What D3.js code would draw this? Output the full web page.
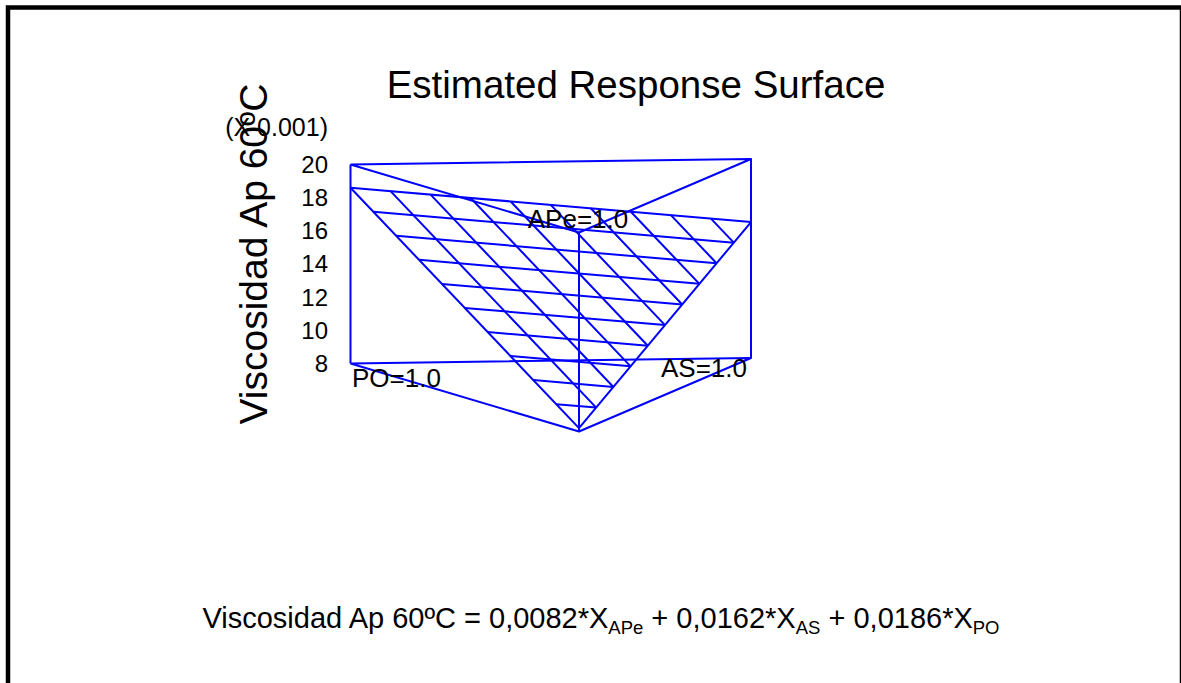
<!DOCTYPE html>
<html>
<head>
<meta charset="utf-8">
<script src="https://cdn.jsdelivr.net/npm/d3@7/dist/d3.min.js"></script>
<style>
  html, body { margin: 0; padding: 0; background: #fff; }
  svg { display: block; }
  text { font-family: "Liberation Sans", Arial, sans-serif; fill: #000; }
</style>
</head>
<body>
<svg id="chart" width="1181" height="683"></svg>
<script>
// Mixture components (order: APe, AS, PO) and fitted linear coefficients
const components = ["APe", "AS", "PO"];
const coefficients = [0.0082, 0.0162, 0.0186];
// Response axis ticks, shown in units of 0.001
const zTicks = [8, 10, 12, 14, 16, 18, 20];
const zDomain = [8, 20];
const responseMultiplier = 0.001;
// Number of grid divisions along each component on the surface mesh
const gridDivisions = 10;

const svg = d3.select("#chart");
const blue = "#0000ff";

// Frame
svg.append("rect")
  .attr("x", 8).attr("y", 7.5)
  .attr("width", 1174).attr("height", 720)
  .attr("fill", "none").attr("stroke", "#000").attr("stroke-width", 4.5);

// Oblique projection: floor corners of the simplex + vertical response scale
const floorCorner = {
  APe: [579, 431.5],
  AS:  [751, 358],
  PO:  [350.5, 363.5]
};
const zScale = d3.scaleLinear().domain(zDomain).range([0, -199]);

// w = {APe, AS, PO} proportions, z = response in 0.001 units
function project(w, z) {
  let x = 0, y = 0;
  components.forEach(c => {
    x += w[c] * floorCorner[c][0];
    y += w[c] * floorCorner[c][1];
  });
  return [x, y + zScale(z)];
}

// Fitted response (in 0.001 units) at a blend
function response(w) {
  let r = 0;
  components.forEach((c, i) => { r += coefficients[i] * w[c]; });
  return r / responseMultiplier;
}

const pure = c => {
  const w = { APe: 0, AS: 0, PO: 0 };
  w[c] = 1;
  return w;
};

const line = d3.line();
const g = svg.append("g")
  .attr("fill", "none")
  .attr("stroke", blue)
  .attr("stroke-width", 2)
  .attr("stroke-linejoin", "round");

// Prism: floor triangle, ceiling triangle and vertical edges
const ring = ["PO", "AS", "APe", "PO"];
[zDomain[0], zDomain[1]].forEach(z => {
  g.append("path").attr("d", line(ring.map(c => project(pure(c), z))));
});
components.forEach(c => {
  g.append("path").attr("d", line([project(pure(c), zDomain[0]), project(pure(c), zDomain[1])]));
});

// Response surface mesh
const surfacePoint = w => project(w, response(w));
const mesh = [];
for (let i = 0; i < gridDivisions; i++) {
  const t = i / gridDivisions;
  // constant APe
  mesh.push([{ APe: t, AS: 0, PO: 1 - t }, { APe: t, AS: 1 - t, PO: 0 }]);
  // constant AS
  mesh.push([{ APe: 0, AS: t, PO: 1 - t }, { APe: 1 - t, AS: t, PO: 0 }]);
}
// remaining boundary edge (PO = 0)
mesh.push([{ APe: 0, AS: 1, PO: 0 }, { APe: 1, AS: 0, PO: 0 }]);
mesh.forEach(seg => {
  g.append("path").attr("d", line(seg.map(surfacePoint)));
});

// Response axis tick labels along the PO edge
const tickX = 328;
svg.append("g").selectAll("text")
  .data(zTicks)
  .join("text")
  .attr("x", tickX)
  .attr("y", d => project(pure("PO"), d)[1])
  .attr("dy", "0.35em")
  .attr("text-anchor", "end")
  .attr("font-size", 24)
  .text(d => d);

svg.append("text")
  .attr("x", tickX)
  .attr("y", 127)
  .attr("dy", "0.35em")
  .attr("text-anchor", "end")
  .attr("font-size", 25)
  .text("(X 0.001)");

// Axis title
svg.append("text")
  .attr("transform", "translate(267,254) rotate(-90)")
  .attr("text-anchor", "middle")
  .attr("font-size", 39)
  .text("Viscosidad Ap 60ºC");

// Chart title
svg.append("text")
  .attr("x", 636).attr("y", 98)
  .attr("text-anchor", "middle")
  .attr("font-size", 38.5)
  .text("Estimated Response Surface");

// Corner labels
const poBase = project(pure("PO"), zDomain[0]);
const asBase = project(pure("AS"), zDomain[0]);
const apeTop = project(pure("APe"), zDomain[1]);
svg.append("text").attr("x", poBase[0] + 1.5).attr("y", poBase[1] + 23.5)
  .attr("font-size", 26).text("PO=1.0");
svg.append("text").attr("x", asBase[0] - 4).attr("y", asBase[1] + 19)
  .attr("text-anchor", "end").attr("font-size", 26).text("AS=1.0");
svg.append("text").attr("x", apeTop[0] - 1).attr("y", apeTop[1] - 5)
  .attr("text-anchor", "middle").attr("font-size", 26).text("APe=1.0");

// Fitted model equation
const fmt = v => v.toFixed(4).replace(".", ",");
const eq = svg.append("text")
  .attr("x", 601).attr("y", 628)
  .attr("text-anchor", "middle")
  .attr("font-size", 29);
eq.append("tspan").text("Viscosidad Ap 60ºC = ");
components.forEach((c, i) => {
  eq.append("tspan")
    .attr("dy", i ? -6 : 0)
    .text((i ? " + " : "") + fmt(coefficients[i]) + "*X");
  eq.append("tspan").attr("font-size", 18.5).attr("dy", 6).text(c);
});
</script>
</body>
</html>
